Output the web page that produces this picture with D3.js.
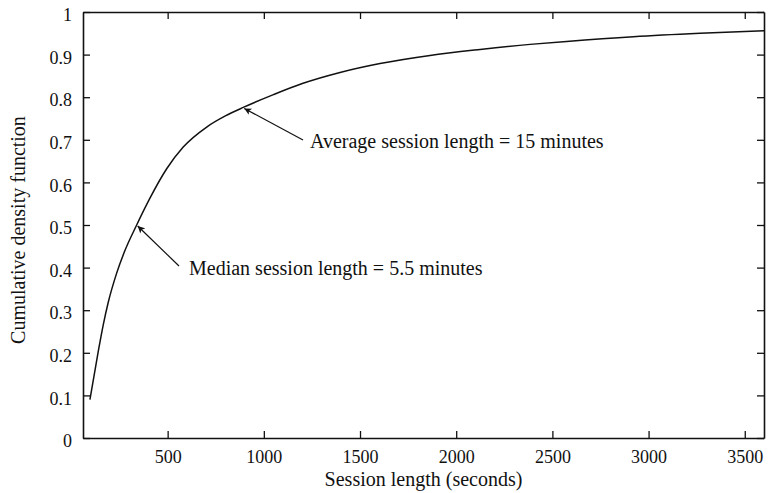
<!DOCTYPE html>
<html>
<head>
<meta charset="utf-8">
<script src="https://cdn.jsdelivr.net/npm/d3@7"></script>
<style>
  html, body { margin: 0; padding: 0; background: #fff; }
  svg { display: block; }
  text { font-family: "Liberation Serif", "DejaVu Serif", serif; fill: #111; }
</style>
</head>
<body>
<svg id="chart" width="769" height="493"></svg>
<script>
// ---- data ----
const sessionSeconds = [96, 140, 165, 191, 235, 278, 339, 408, 495, 581, 703, 800, 893, 1050, 1200, 1396, 1604, 1864, 2124, 2384, 2574, 2921, 3268, 3600];
const cdfValues      = [0.09, 0.205, 0.265, 0.318, 0.387, 0.440, 0.500, 0.563, 0.632, 0.683, 0.730, 0.756, 0.776, 0.806, 0.832, 0.858, 0.879, 0.898, 0.912, 0.924, 0.931, 0.942, 0.950, 0.956];
const xTicks = [500, 1000, 1500, 2000, 2500, 3000, 3500];
const yTicks = [0, 0.1, 0.2, 0.3, 0.4, 0.5, 0.6, 0.7, 0.8, 0.9, 1];
const yTickLabels = ["0", "0.1", "0.2", "0.3", "0.4", "0.5", "0.6", "0.7", "0.8", "0.9", "1"];
const xDomain = [60, 3600];
const yDomain = [0, 1];
const annotationText = ["Median session length = 5.5 minutes", "Average session length = 15 minutes"];
const annotationTarget = [[339, 0.50], [893, 0.776]];
const xLabel = "Session length (seconds)";
const yLabel = "Cumulative density function";

// ---- layout ----
const W = 769, H = 493;
const m = { left: 83, right: 5, top: 12, bottom: 55 };
const svg = d3.select("#chart");
const x = d3.scaleLinear().domain(xDomain).range([m.left, W - m.right]);
const y = d3.scaleLinear().domain(yDomain).range([H - m.bottom, m.top]);
const ink = "#111";

svg.append("defs").append("marker")
  .attr("id", "arrow").attr("viewBox", "0 0 10 10")
  .attr("refX", 10).attr("refY", 5)
  .attr("markerWidth", 9).attr("markerHeight", 7)
  .attr("markerUnits", "userSpaceOnUse")
  .attr("orient", "auto")
  .append("path").attr("d", "M0,0 L10,5 L0,10 L2.5,5 Z").attr("fill", ink);

// axes (inside ticks, mirrored)
const fsTick = 18, fsText = 20;
const axBottom = svg.append("g").attr("transform", `translate(0,${y(0)})`)
  .call(d3.axisBottom(x).tickValues(xTicks).tickSizeInner(-7).tickSizeOuter(0).tickPadding(12).tickFormat(d3.format("d")));
const axTop = svg.append("g").attr("transform", `translate(0,${y(1)})`)
  .call(d3.axisTop(x).tickValues(xTicks).tickSizeInner(-7).tickSizeOuter(0).tickFormat(""));
const axLeft = svg.append("g").attr("transform", `translate(${x(xDomain[0])},0)`)
  .call(d3.axisLeft(y).tickValues(yTicks).tickSizeInner(-7).tickSizeOuter(0).tickPadding(11)
    .tickFormat((d, i) => yTickLabels[i]));
const axRight = svg.append("g").attr("transform", `translate(${x(xDomain[1])},0)`)
  .call(d3.axisRight(y).tickValues(yTicks).tickSizeInner(-7).tickSizeOuter(0).tickFormat(""));

[axBottom, axTop, axLeft, axRight].forEach(g => {
  g.select(".domain").attr("stroke", ink).attr("stroke-width", 1.6);
  g.selectAll(".tick line").attr("stroke", ink).attr("stroke-width", 1.3);
  g.selectAll(".tick text").attr("font-family", "Liberation Serif").attr("font-size", fsTick).attr("fill", ink);
});
axLeft.selectAll(".tick text").attr("dy", "0.48em");

// curve
const pts = sessionSeconds.map((s, i) => [s, cdfValues[i]]);
svg.append("path").datum(pts)
  .attr("fill", "none").attr("stroke", ink).attr("stroke-width", 1.5)
  .attr("d", d3.line().x(d => x(d[0])).y(d => y(d[1])).curve(d3.curveMonotoneX));

// annotations
const tails = [[179, 266], [303, 140]];
const textPos = [[189, 275], [310, 148]];
annotationTarget.forEach((t, i) => {
  svg.append("line")
    .attr("x1", tails[i][0]).attr("y1", tails[i][1])
    .attr("x2", x(t[0]) + 1).attr("y2", y(t[1]) + 1)
    .attr("stroke", ink).attr("stroke-width", 1.2)
    .attr("marker-end", "url(#arrow)");
  svg.append("text").attr("x", textPos[i][0]).attr("y", textPos[i][1])
    .attr("font-size", fsText).text(annotationText[i]);
});

// axis titles
svg.append("text").attr("x", (x(xDomain[0]) + x(xDomain[1])) / 2).attr("y", 486)
  .attr("text-anchor", "middle").attr("font-size", fsText).text(xLabel);
svg.append("text").attr("transform", `translate(25,230) rotate(-90)`)
  .attr("text-anchor", "middle").attr("font-size", fsText).text(yLabel);
</script>
</body>
</html>
